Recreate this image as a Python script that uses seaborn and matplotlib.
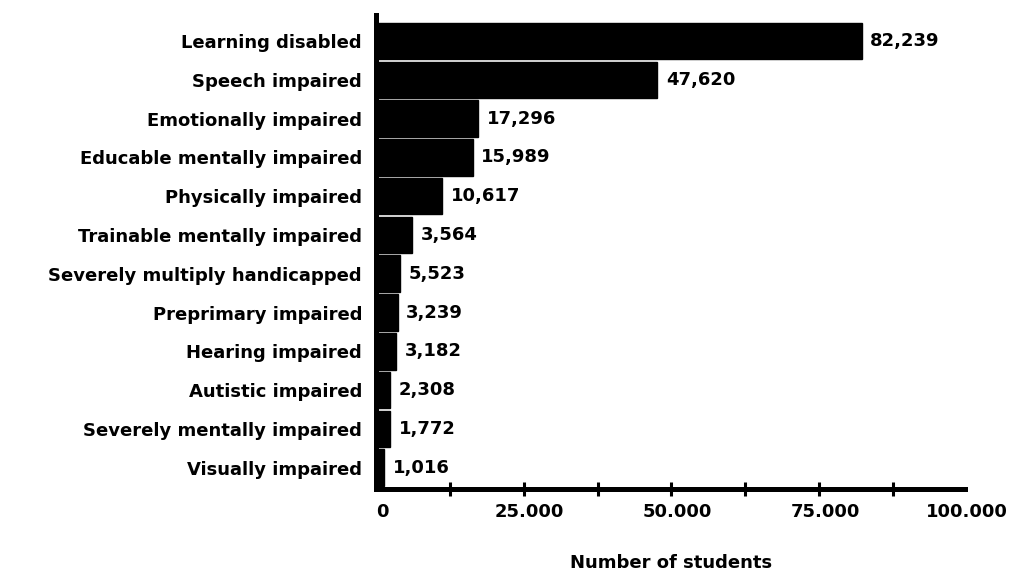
# horizontal bar chart: students by disability category
import numpy as np
import pandas as pd
import matplotlib
matplotlib.use('Agg')
import matplotlib.pyplot as plt
import matplotlib.ticker as ticker
import matplotlib.transforms as mtransforms
import seaborn as sns

# data
categories = ['Learning disabled', 'Speech impaired', 'Emotionally impaired',
              'Educable mentally impaired', 'Physically impaired',
              'Trainable mentally impaired', 'Severely multiply handicapped',
              'Preprimary impaired', 'Hearing impaired', 'Autistic impaired',
              'Severely mentally impaired', 'Visually impaired']
# bar lengths as drawn (some bars do not match their printed value)
bar_lengths = [82239, 47620, 17296, 16400, 11200, 6100, 4100, 3700, 3400, 2400, 2400, 1400]
value_labels = ['82,239', '47,620', '17,296', '15,989', '10,617', '3,564',
                '5,523', '3,239', '3,182', '2,308', '1,772', '1,016']
x_tick_values = [0, 25000, 50000, 75000, 100000]
x_tick_labels = ['0', '25.000', '50.000', '75.000', '100.000']

df = pd.DataFrame({'category': categories, 'students': bar_lengths})

sns.set_theme(style='white')
plt.rcParams['font.family'] = ['DejaVu Sans']
plt.rcParams['font.weight'] = 'bold'
plt.rcParams['text.color'] = 'black'
plt.rcParams['axes.labelcolor'] = 'black'
plt.rcParams['xtick.color'] = 'black'
plt.rcParams['ytick.color'] = 'black'

FS = 13

fig = plt.figure(figsize=(10.12, 5.75), dpi=100)
ax = fig.add_axes([0.3715, 0.1496, 0.5840, 0.8243])

sns.barplot(data=df, x='students', y='category', color='black',
            width=0.94, orient='h', ax=ax, saturation=1)
for p in ax.patches:
    p.set_edgecolor('black')

# подписи значений
for i, (v, lab) in enumerate(zip(bar_lengths, value_labels)):
    ax.annotate(lab, xy=(v, i), xytext=(6, 0), textcoords='offset points',
                ha='left', va='center', fontsize=FS, fontweight='bold',
                color='black')

ax.set_xlim(0, 100000)
ax.set_ylim(11.55, -0.67)

# оси
for s in ['top', 'right']:
    ax.spines[s].set_visible(False)
ax.spines['left'].set_linewidth(3.6)
ax.spines['bottom'].set_linewidth(3.6)
ax.spines['left'].set_color('black')
ax.spines['bottom'].set_color('black')
ax.spines['bottom'].set_bounds(0, 99600)

ax.xaxis.remove_overlapping_locs = False
ax.xaxis.set_major_locator(ticker.FixedLocator(x_tick_values))
ax.set_xticklabels(x_tick_labels, fontsize=FS, fontweight='bold')
ax.xaxis.set_minor_locator(ticker.FixedLocator([12500 * k for k in range(1, 8)]))
ax.tick_params(axis='x', which='major', length=0, pad=10)
ax.tick_params(axis='x', which='minor', direction='inout', length=9.5,
               width=2.2, color='black', bottom=True)
ax.tick_params(axis='y', length=0, pad=10)
for t in ax.get_yticklabels():
    t.set_fontsize(FS)
    t.set_fontweight('bold')
    t.set_color('black')

# сдвинем подписи оси x немного вправо (кроме последней, чтобы не обрезалась)
for t in ax.get_xticklabels()[:-1]:
    shift = mtransforms.ScaledTranslation(6 / 100, 0, fig.dpi_scale_trans)
    t.set_transform(t.get_transform() + shift)

ax.set_ylabel('')
ax.set_xlabel('Number of students', fontsize=FS, fontweight='bold', labelpad=24)
ax.grid(False)

plt.savefig('out.png', dpi=100, facecolor='white')
plt.close()
